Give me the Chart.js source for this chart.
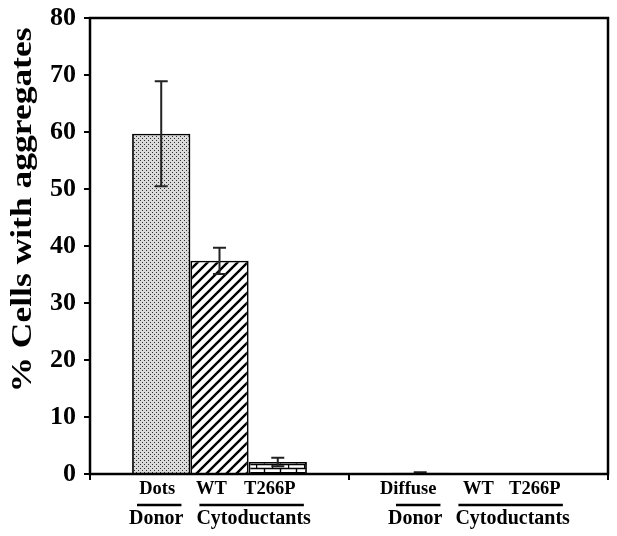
<!DOCTYPE html>
<html>
<head>
<meta charset="utf-8">
<script src="https://cdn.jsdelivr.net/npm/chart.js@4"></script>
<style>
  html, body { margin: 0; padding: 0; background: #fff; }
  #wrap { width: 617px; height: 536px; }
</style>
</head>
<body>
<div id="wrap"><canvas id="chart" width="617" height="536"></canvas></div>
<script>
// --- Data ---
const conditions = ['Dots', 'Diffuse'];
const seriesNames = ['Donor', 'WT', 'T266P'];
const donorValues = [59.7, 0.2];
const wtValues = [37.4, 0];
const t266pValues = [2.1, 0];
const donorErrors = [9.2, 0.1];
const wtErrors = [2.3, 0];
const t266pErrors = [0.75, 0];
const barLabels = [['Dots', 'WT', 'T266P'], ['Diffuse', 'WT', 'T266P']];
const groupLabels = ['Donor', 'Cytoductants'];
const yTicks = [0, 10, 20, 30, 40, 50, 60, 70, 80];
const yTitle = '% Cells with aggregates';

const SERIF = '"Liberation Serif", "Times New Roman", serif';
// label nudges (px) relative to bar centres, as placed in the original figure
const labelNudge = [[-4, -8, -8], [-12, 0, -2]];

// --- Fill patterns ---
function makePattern(w, h, draw) {
    const c = document.createElement('canvas');
    c.width = w; c.height = h;
    const g = c.getContext('2d');
    draw(g);
    return g.createPattern(c, 'repeat');
}

const dotsPattern = makePattern(4, 4, g => {
    g.fillStyle = '#dadada';
    g.fillRect(0, 0, 4, 4);
    g.fillStyle = '#2e2e2e';
    g.fillRect(0, 0, 1, 1);
    g.fillRect(2, 2, 1, 1);
});

const hatchPattern = makePattern(10, 10, g => {
    g.fillStyle = '#fff';
    g.fillRect(0, 0, 10, 10);
    g.strokeStyle = '#000';
    g.lineWidth = 2.4;
    g.beginPath();
    g.moveTo(-2, 12); g.lineTo(12, -2);
    g.moveTo(-7, 7); g.lineTo(7, -7);
    g.moveTo(3, 17); g.lineTo(17, 3);
    g.stroke();
});

const brickPattern = makePattern(16, 8, g => {
    g.fillStyle = '#fff';
    g.fillRect(0, 0, 16, 8);
    g.strokeStyle = '#000';
    g.lineWidth = 1.4;
    g.beginPath();
    g.moveTo(0, 0.5); g.lineTo(16, 0.5);
    g.moveTo(0, 4.5); g.lineTo(16, 4.5);
    g.moveTo(0.5, 0); g.lineTo(0.5, 4.5);
    g.moveTo(8.5, 4.5); g.lineTo(8.5, 8);
    g.stroke();
});

// --- Plugins ---
const errorBars = {
    id: 'errorBars',
    afterDatasetsDraw(chart) {
        const ctx = chart.ctx;
        const y = chart.scales.y;
        const errs = [donorErrors, wtErrors, t266pErrors];
        ctx.save();
        ctx.strokeStyle = '#222';
        ctx.lineWidth = 2;
        chart.data.datasets.forEach((ds, di) => {
            chart.getDatasetMeta(di).data.forEach((bar, i) => {
                const e = errs[di][i];
                if (!e) return;
                const v = ds.data[i];
                const yt = y.getPixelForValue(v + e);
                const yb = y.getPixelForValue(Math.max(0, v - e));
                const x = bar.x;
                ctx.beginPath();
                ctx.moveTo(x, yt); ctx.lineTo(x, yb);
                ctx.moveTo(x - 6.5, yt); ctx.lineTo(x + 6.5, yt);
                ctx.moveTo(x - 6.5, yb); ctx.lineTo(x + 6.5, yb);
                ctx.stroke();
            });
        });
        ctx.restore();
    }
};

const frameAndLabels = {
    id: 'frameAndLabels',
    afterDraw(chart) {
        const ctx = chart.ctx;
        const a = chart.chartArea;
        ctx.save();
        ctx.strokeStyle = '#000';
        ctx.lineWidth = 2.5;
        ctx.strokeRect(a.left, a.top, a.right - a.left, a.bottom - a.top);

        ctx.fillStyle = '#000';
        ctx.textAlign = 'center';
        ctx.textBaseline = 'middle';
        const metas = [0, 1, 2].map(d => chart.getDatasetMeta(d));
        conditions.forEach((c, i) => {
            ctx.font = 'bold 18.5px ' + SERIF;
            metas.forEach((m, d) => {
                ctx.fillText(barLabels[i][d], m.data[i].x + labelNudge[i][d], a.bottom + 15);
            });
            const donorX = metas[0].data[i].x - 5;
            const cytoX = (metas[1].data[i].x + metas[2].data[i].x) / 2 + 5;
            ctx.font = 'bold 20px ' + SERIF;
            [[groupLabels[0], donorX, 3], [groupLabels[1], cytoX, -2]].forEach(([t, x, shift]) => {
                ctx.fillText(t, x, a.bottom + 45);
                const w = ctx.measureText(t).width - 10;
                ctx.lineWidth = 2.5;
                ctx.beginPath();
                ctx.moveTo(x + shift - w / 2, a.bottom + 31);
                ctx.lineTo(x + shift + w / 2, a.bottom + 31);
                ctx.stroke();
            });
        });

        // rotated y-axis title, stretched along its length like the reference
        ctx.font = 'bold 29px ' + SERIF;
        const tw = ctx.measureText(yTitle).width;
        ctx.translate(24, 210);
        ctx.rotate(-Math.PI / 2);
        ctx.scale(365 / tw, 1);
        ctx.fillText(yTitle, 0, 0);
        ctx.restore();
    }
};

// --- Chart ---
new Chart(document.getElementById('chart'), {
    type: 'bar',
    data: {
        labels: conditions,
        datasets: [
            { label: seriesNames[0], data: donorValues, backgroundColor: dotsPattern },
            { label: seriesNames[1], data: wtValues, backgroundColor: hatchPattern },
            { label: seriesNames[2], data: t266pValues, backgroundColor: brickPattern }
        ]
    },
    options: {
        responsive: false,
        animation: false,
        layout: { padding: { left: 0, right: 9, top: 18, bottom: 0 } },
        datasets: {
            bar: {
                borderColor: '#000',
                borderWidth: 1.8,
                categoryPercentage: 0.675,
                barPercentage: 1
            }
        },
        plugins: {
            legend: { display: false },
            tooltip: { enabled: false }
        },
        scales: {
            x: {
                offset: true,
                grid: { offset: true, drawOnChartArea: false, tickLength: 6, lineWidth: 2, color: '#000' },
                border: { display: false },
                ticks: { display: false },
                afterFit(s) { s.height = 62; }
            },
            y: {
                min: 0, max: 80,
                afterBuildTicks(s) { s.ticks = yTicks.map(v => ({ value: v })); },
                grid: { drawOnChartArea: false, tickLength: 6, lineWidth: 2, color: '#000' },
                border: { display: false },
                ticks: {
                    color: '#000',
                    padding: 8,
                    font: { family: SERIF, size: 26, weight: 'bold' }
                },
                afterFit(s) { s.width = 90; s.paddingTop = 0; s.paddingBottom = 0; }
            }
        }
    },
    plugins: [errorBars, frameAndLabels]
});
</script>
</body>
</html>
